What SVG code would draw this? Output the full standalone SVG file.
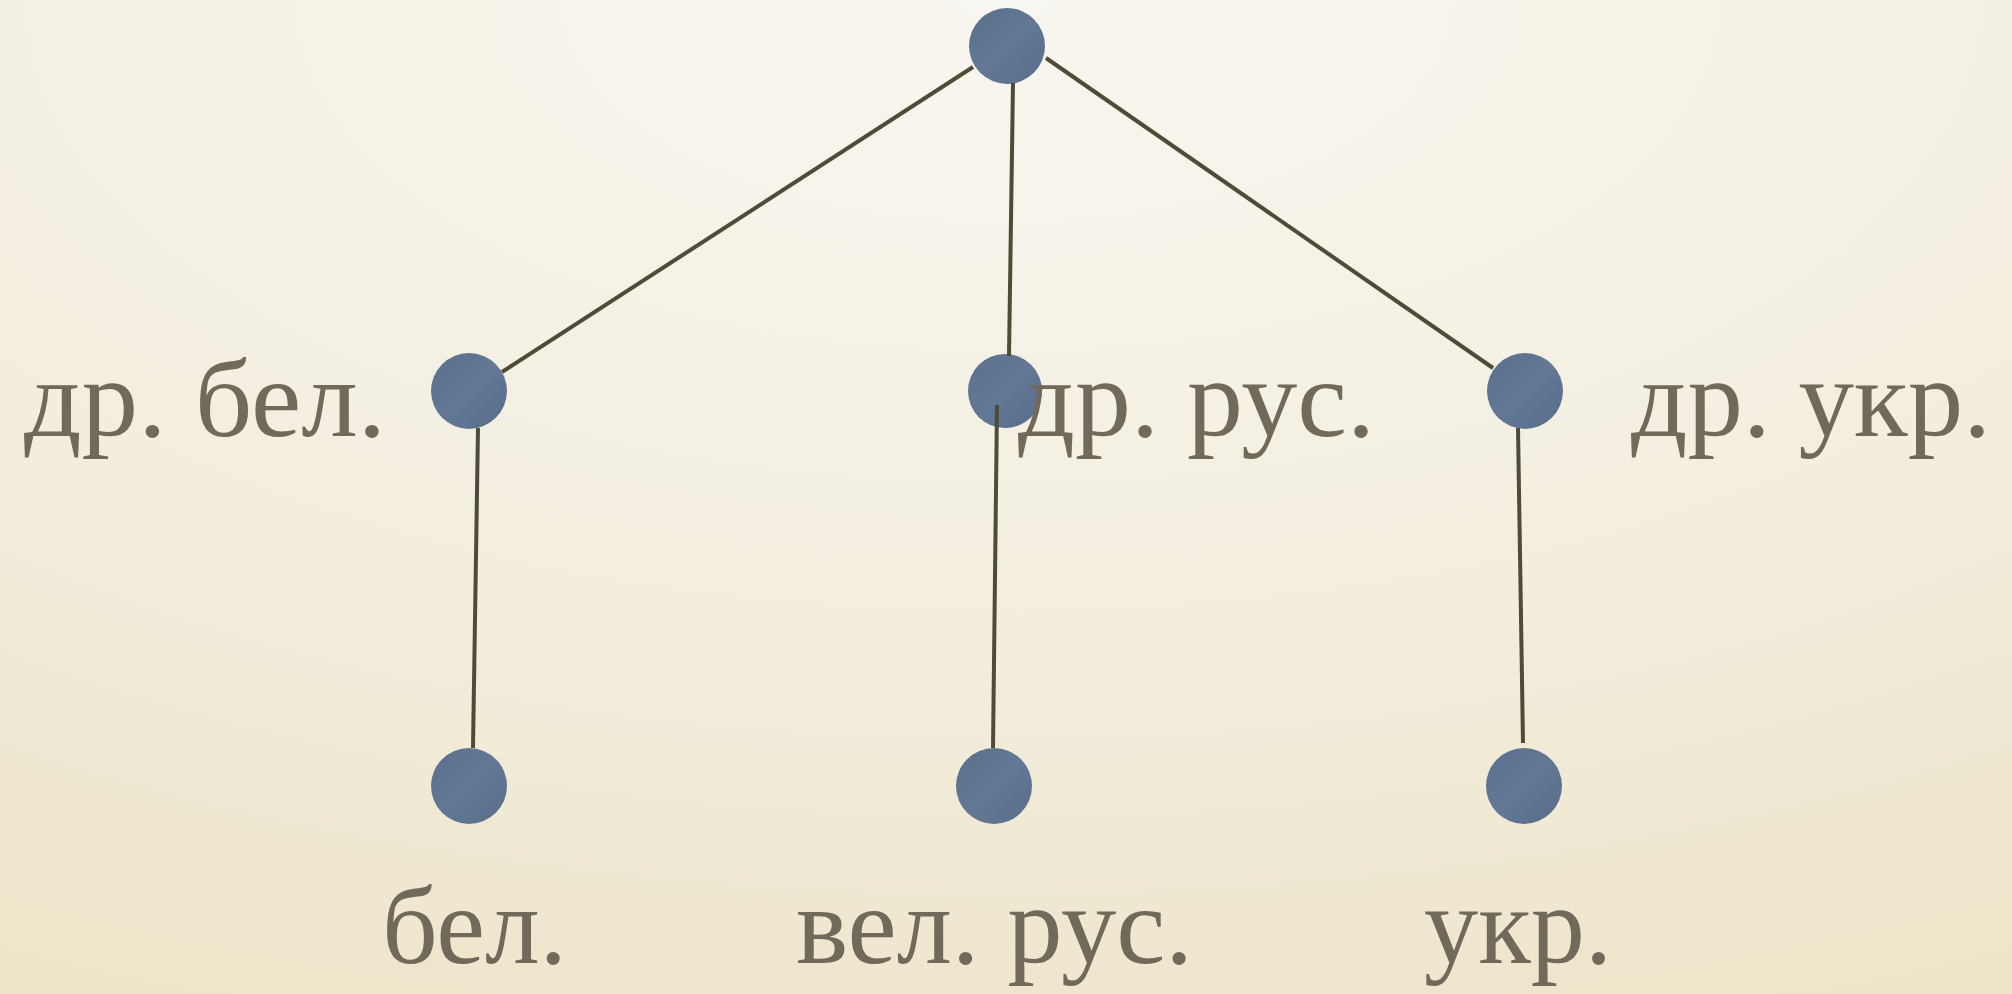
<svg xmlns="http://www.w3.org/2000/svg" width="2012" height="994" viewBox="0 0 2012 994">
  <defs>
    <radialGradient id="paper" cx="0.5" cy="0" r="1.1" gradientUnits="objectBoundingBox">
      <stop offset="0" stop-color="#f8f6f0"/>
      <stop offset="0.55" stop-color="#f3eee0"/>
      <stop offset="1" stop-color="#ede4c8"/>
    </radialGradient>
    <linearGradient id="dot" x1="0" y1="0" x2="1" y2="1">
      <stop offset="0" stop-color="#5a708c"/>
      <stop offset="0.5" stop-color="#627894"/>
      <stop offset="1" stop-color="#576d89"/>
    </linearGradient>
  </defs>
  <style>
    .node circle { fill: url(#dot); }
    .label { font-family: "Liberation Serif", "DejaVu Serif", serif; font-size: 110px; fill: #716a5a; }
    .edge { stroke: #4e4c37; stroke-width: 4; fill: none; stroke-linecap: butt; }
  </style>

  <rect x="0" y="0" width="2012" height="994" fill="url(#paper)"/>

  <!-- tree nodes -->
  <g id="root" class="node"><circle cx="1007" cy="46" r="38"/></g>
  <g id="old-bel" class="node"><circle cx="469" cy="391" r="38"/><text class="label" x="24" y="436" textLength="362" lengthAdjust="spacingAndGlyphs">др. бел.</text></g>
  <g id="old-rus" class="node"><circle cx="1005" cy="391" r="37"/><text class="label" x="1018" y="436" textLength="357" lengthAdjust="spacingAndGlyphs">др. рус.</text></g>
  <g id="old-ukr" class="node"><circle cx="1525" cy="391" r="38"/><text class="label" x="1631" y="436" textLength="360" lengthAdjust="spacingAndGlyphs">др. укр.</text></g>
  <g id="bel" class="node"><circle cx="469" cy="786" r="38"/><text class="label" x="382" y="963" textLength="185" lengthAdjust="spacingAndGlyphs">бел.</text></g>
  <g id="rus" class="node"><circle cx="994" cy="786" r="38"/><text class="label" x="796" y="963" textLength="397" lengthAdjust="spacingAndGlyphs">вел. рус.</text></g>
  <g id="ukr" class="node"><circle cx="1524" cy="786" r="38"/><text class="label" x="1424" y="963" textLength="188" lengthAdjust="spacingAndGlyphs">укр.</text></g>

  <!-- branches -->
  <g id="connectors">
    <line class="edge" x1="973" y1="67" x2="502" y2="372"/>
    <line class="edge" x1="1013" y1="83" x2="1009" y2="356"/>
    <line class="edge" x1="1046" y1="58" x2="1493" y2="368"/>
    <line class="edge" x1="478" y1="428" x2="473" y2="748"/>
    <line class="edge" x1="997" y1="405" x2="993" y2="748"/>
    <line class="edge" x1="1518" y1="428" x2="1523" y2="743"/>
  </g>
</svg>
